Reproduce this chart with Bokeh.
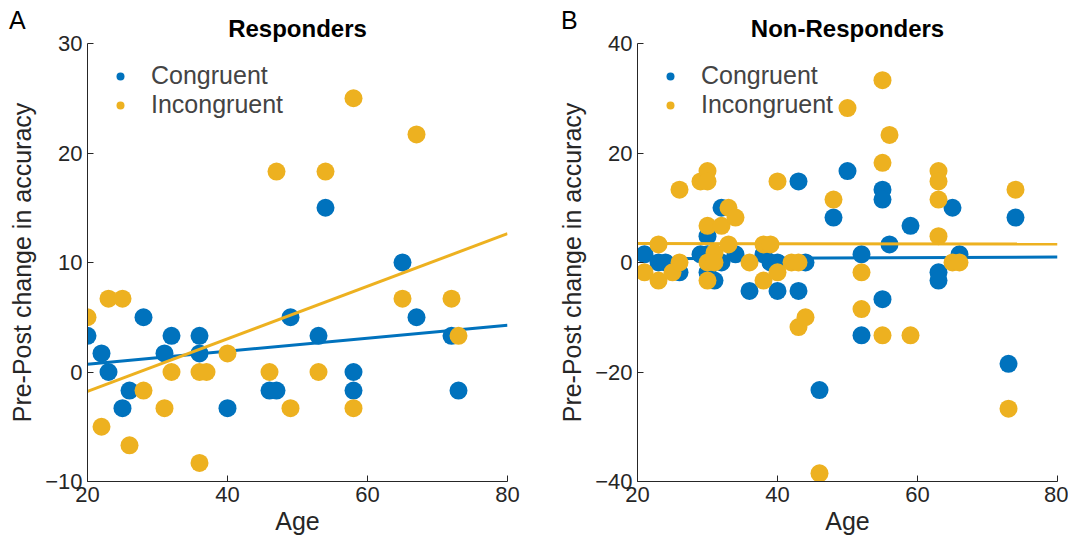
from bokeh.plotting import figure
from bokeh.models import Range1d, Legend, LegendItem, Div
from bokeh.layouts import row, column
from bokeh.embed import file_html
from bokeh.resources import INLINE
import numpy as np

# Panel A - Responders
resp_cong_age = [20, 22, 23, 25, 26, 28, 31, 32, 36, 36, 40, 46, 47, 49, 53, 54, 58, 58, 65, 67, 72, 73]
resp_cong_val = [3.3, 1.7, 0, -3.3, -1.7, 5, 1.7, 3.3, 3.3, 1.7, -3.3, -1.7, -1.7, 5, 3.3, 15, 0, -1.7, 10, 5, 3.3, -1.7]
resp_inc_age = [20, 22, 23, 25, 26, 28, 31, 32, 36, 36, 37, 40, 46, 47, 49, 53, 54, 58, 58, 65, 67, 72, 73]
resp_inc_val = [5, -5, 6.7, 6.7, -6.7, -1.7, -3.3, 0, 0, -8.3, 0, 1.7, 0, 18.3, -3.3, 0, 18.3, 25, -3.3, 6.7, 21.7, 6.7, 3.3]

# Panel B - Non-Responders
non_cong_age = [21, 23, 24, 26, 29, 30, 30, 30, 31, 32, 32, 34, 36, 38, 39, 40, 40, 43, 43, 44,
                46, 48, 50, 52, 52, 55, 55, 55, 56, 59, 63, 63, 65, 66, 73, 74]
non_cong_val = [1.5, 0, 0, -1.8, 1.5, 4.8, 1.5, -1.8, -3.3, 10, 0, 1.5, -5.2, 1.5, 0, 0, -5.2, 14.8, -5.2, 0,
                -23.3, 8.2, 16.7, 1.5, -13.3, 13.3, 11.5, -6.7, 3.3, 6.7, -1.8, -3.3, 10, 1.5, -18.5, 8.2]
non_inc_age = [21, 23, 23, 25, 26, 26, 29, 30, 30, 30, 30, 30, 31, 31, 32, 33, 33, 34, 36, 38, 38, 39,
               40, 40, 42, 43, 43, 44, 46, 48, 50, 52, 52, 55, 55, 55, 56, 59, 63, 63, 63, 63, 65, 66, 73, 74]
non_inc_val = [-1.8, 3.3, -3.3, -1.8, 0, 13.3, 14.8, 16.7, 14.8, 6.7, 0, -3.3, 1.8, 0, 6.7, 10, 3.3, 8.2, 0, -3.3, 3.3, 3.3,
               -1.8, 14.8, 0, 0, -11.8, -10, -38.5, 11.5, 28.2, -1.8, -8.5, 33.3, 18.2, -13.3, 23.3, -13.3, 16.7, 14.8, 11.5, 4.8, 0, 0, -26.7, 13.3]

BLUE = "#0072BD"
YELLOW = "#EDB120"
FONT = "Liberation Sans"


def make_panel(title, y_range, y_ticks, cong, inc, left, right):
    p = figure(frame_width=420, frame_height=438, x_range=Range1d(20, 80), y_range=Range1d(*y_range),
               output_backend="svg", toolbar_location=None,
               min_border_left=left, min_border_right=right, min_border_top=20, min_border_bottom=60)
    p.outline_line_color = None
    p.xgrid.visible = False
    p.ygrid.visible = False
    p.title.text = title
    p.title.align = "center"
    p.title.text_font = FONT
    p.title.text_font_size = "24px"
    p.title.text_font_style = "bold"
    p.title.text_color = "black"
    p.title.standoff = 4

    p.xaxis.ticker = [20, 40, 60, 80]
    p.yaxis.ticker = y_ticks
    p.xaxis.axis_label = "Age"
    p.yaxis.axis_label = "Pre-Post change in accuracy"
    for ax in (p.xaxis, p.yaxis):
        ax.axis_label_text_font = FONT
        ax.axis_label_text_font_size = "25px"
        ax.axis_label_text_font_style = "normal"
        ax.axis_label_text_color = "#262626"
        ax.major_label_text_font = FONT
        ax.major_label_text_font_size = "22px"
        ax.major_label_text_color = "#262626"
        ax.major_tick_in = 6
        ax.major_tick_out = 0
        ax.minor_tick_line_color = None
        ax.axis_line_color = "#262626"
        ax.major_tick_line_color = "#262626"
    p.xaxis.axis_label_standoff = 2
    p.yaxis.axis_label_standoff = 6

    items = []
    for (ages, vals), color, name in ((cong, BLUE, "Congruent"), (inc, YELLOW, "Incongruent")):
        a = np.array(ages, dtype=float)
        v = np.array(vals, dtype=float)
        k, b = np.polyfit(a, v, 1)
        xs = np.array([20, 80])
        p.line(xs, k * xs + b, line_color=color, line_width=3)
        p.scatter(a, v, size=18, fill_color=color, line_color=None)
        dummy = p.scatter([np.nan], [np.nan], size=10, fill_color=color, line_color=None)
        items.append(LegendItem(label=name, renderers=[dummy]))

    leg = Legend(items=items, location="top_left", border_line_color=None, background_fill_alpha=0,
                 label_text_font=FONT, label_text_font_size="25px", glyph_width=30,
                 spacing=0, padding=4, margin=18, label_standoff=16)
    p.add_layout(leg)
    return p


pa = make_panel("Responders", (-10, 30), [-10, 0, 10, 20, 30],
                (resp_cong_age, resp_cong_val), (resp_inc_age, resp_inc_val), 87, 38)
pb = make_panel("Non-Responders", (-40, 40), [-40, -20, 0, 20, 40],
                (non_cong_age, non_cong_val), (non_inc_age, non_inc_val), 92, 11)

span = "position:absolute;top:-14px;font-family:'Liberation Sans';font-size:25px;color:black;"
letters = Div(text=f'<div style="position:relative;height:0">'
                   f'<span style="{span}left:4px">A</span>'
                   f'<span style="{span}left:556px">B</span></div>',
              width=1068, height=0, styles={"overflow": "visible", "z-index": "10"})

layout = column(letters, row(pa, pb), spacing=0)
open("out.html", "w").write(file_html(layout, INLINE))
